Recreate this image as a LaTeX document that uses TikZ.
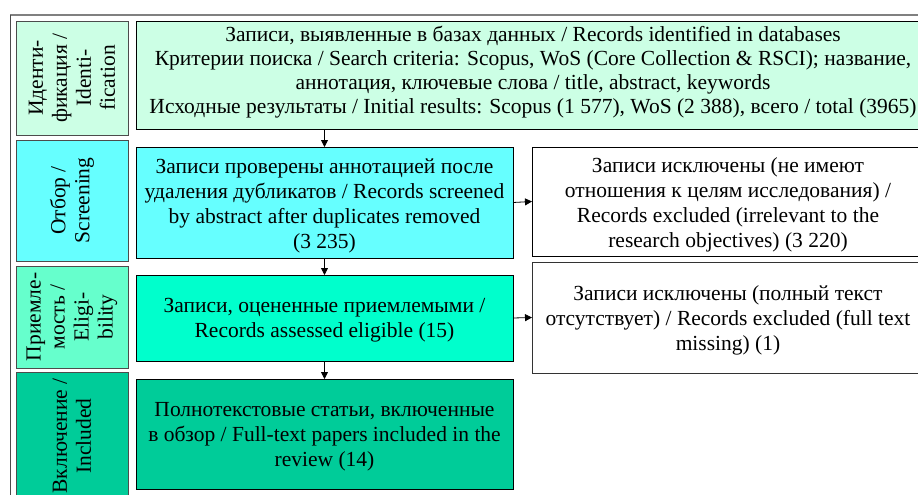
\documentclass[tikz,border=0pt]{standalone}
\usepackage{fontspec}
\setmainfont{Liberation Serif}
\usetikzlibrary{arrows.meta}
\definecolor{identc}{HTML}{CCFFE5}
\definecolor{screenc}{HTML}{66FFFF}
\definecolor{eliglab}{HTML}{66FFCC}
\definecolor{eligc}{HTML}{00FFCC}
\definecolor{inclc}{HTML}{00CC99}
\definecolor{framec}{HTML}{808080}
\begin{document}
\begin{tikzpicture}[x=1pt,y=-1pt,
  every node/.style={font=\rmfamily\fontsize{21.5}{24}\selectfont, inner sep=0pt, outer sep=0pt, align=center},
  mainbox/.style={draw=black, line width=0.9pt},
  boxtext/.style={font=\rmfamily\fontsize{21.5}{25}\selectfont},
  stagebox/.style={draw=black!70, line width=0.9pt, rotate=90, minimum height=112pt},
  flow/.style={-{Triangle[length=7pt,width=7pt]}, line width=0.8pt}]
\useasboundingbox (0,0) rectangle (918,495);
\clip (0,0) rectangle (918,495);
\fill[white] (0,0) rectangle (918,495);
% outer frame
\draw[framec, line width=1.6pt] (10,15) -- (940,15);
\draw[black!70, line width=0.9pt] (10,15) -- (10,510);
% stage labels
\node[stagebox, fill=identc, minimum width=114pt] (l1) at (72,78) {Иденти-\\фикация /\\Identi-\\fication};
\node[stagebox, fill=screenc, minimum width=121pt] (l2) at (72,200.5) {Отбор /\\Screening};
\node[stagebox, fill=eliglab, minimum width=102pt] (l3) at (72,317) {Приемле-\\мость /\\Eligi-\\bility};
\node[stagebox, fill=inclc, minimum width=128pt] (l4) at (72,436) {Включение /\\Included};
% flow boxes
\node[mainbox, fill=identc, minimum width=794pt, minimum height=108pt] (top) at (533,75) {};
\node[mainbox, fill=screenc, minimum width=377pt, minimum height=111pt] (scr) at (324.5,202.5) {};
\node[mainbox, fill=white, minimum width=392pt, minimum height=109pt] (ex1) at (728,201.5) {};
\node[mainbox, fill=eligc, minimum width=377pt, minimum height=86pt] (elig) at (324.5,318) {};
\node[mainbox, draw=black!80, fill=white, minimum width=392pt, minimum height=111pt] (ex2) at (728,317.5) {};
\node[mainbox, fill=inclc, minimum width=377pt, minimum height=110pt] (inc) at (324.5,434) {};
% box texts
\node (toptext) at (533,72.5)
  {Записи, выявленные в базах данных / Records identified in databases\\
   Критерии поиска / Search criteria: Scopus, WoS (Core Collection \& RSCI); название,\\
   аннотация, ключевые слова / title, abstract, keywords\\
   Исходные результаты / Initial results: Scopus (1 577), WoS (2 388), всего / total (3965)};
\node[boxtext] (scrtext) at ([yshift=-3pt]scr.center)
  {Записи проверены аннотацией после\\удаления дубликатов / Records screened\\by abstract after duplicates removed\\(3 235)};
\node[boxtext] (ex1text) at ([yshift=-3pt]ex1.center)
  {Записи исключены (не имеют\\отношения к целям исследования) /\\Records excluded (irrelevant to the\\research objectives) (3 220)};
\node[boxtext] (eligtext) at ([yshift=-2.5pt]elig.center)
  {Записи, оцененные приемлемыми /\\Records assessed eligible (15)};
\node[boxtext] (ex2text) at ([yshift=-2.5pt]ex2.center)
  {Записи исключены (полный текст\\отсутствует) / Records excluded (full text\\missing) (1)};
\node[boxtext] (inctext) at ([yshift=-2.5pt]inc.center)
  {Полнотекстовые статьи, включенные\\в обзор / Full-text papers included in the\\review (14)};
% connectors
\draw[flow] (scr.north |- top.south) -- (scr.north);
\draw[flow] (scr.south) -- (elig.north);
\draw[flow] (elig.south) -- (inc.north);
\draw[flow] (scr.east) -- (ex1.west);
\draw[flow] (elig.east) -- (ex2.west);
\end{tikzpicture}
\end{document}
